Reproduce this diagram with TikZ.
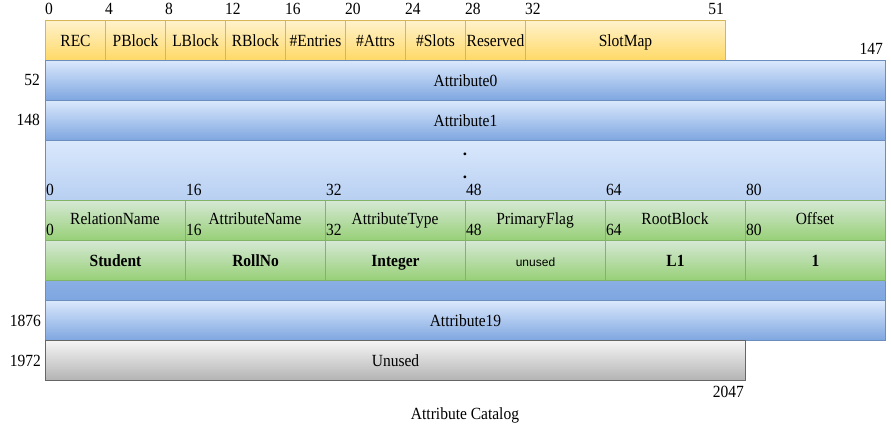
\documentclass[tikz,border=0pt]{standalone}
\usepackage{graphicx}
\usepackage{fontspec}
\setmainfont{Liberation Serif}
\newfontfamily\sansf{Liberation Sans}
\definecolor{yelT}{HTML}{FFF2CC}
\definecolor{yelD}{HTML}{FFD966}
\definecolor{yelB}{HTML}{D6B656}
\definecolor{bluT}{HTML}{DAE8FC}
\definecolor{bluD}{HTML}{7EA6E0}
\definecolor{bluB}{HTML}{6C8EBF}
\definecolor{grnT}{HTML}{D5E8D4}
\definecolor{grnD}{HTML}{97D077}
\definecolor{grnB}{HTML}{82B366}
\definecolor{gryT}{HTML}{F5F5F5}
\definecolor{gryD}{HTML}{B3B3B3}
\definecolor{gryB}{HTML}{666666}
\newcommand{\tall}[1]{\scalebox{1}[1.1]{#1}}
\begin{document}
\begin{tikzpicture}[x=1pt,y=1pt,
  cell/.style={draw, line width=1pt, inner sep=0pt, anchor=north west, minimum height=40pt, text height=14pt, text depth=2pt, font=\fontsize{15.5}{18}\selectfont},
  yel/.style={cell, draw=yelB, top color=yelT, bottom color=yelD},
  blu/.style={cell, draw=bluB, top color=bluT, bottom color=bluD},
  grn/.style={cell, draw=grnB, top color=grnT, bottom color=grnD, minimum width=140pt},
  gry/.style={cell, draw=gryB, top color=gryT, bottom color=gryD},
  num/.style={inner sep=0pt, font=\fontsize{15.5}{17}\selectfont},
  lbl/.style={inner sep=0pt, anchor=base, font=\fontsize{15.5}{18}\selectfont},
  dotmark/.style={inner sep=0pt, anchor=base, font=\fontsize{17}{18}\selectfont\bfseries}]
\useasboundingbox (0,0) rectangle (891,-430);
% header row
\node[yel, minimum width=60pt] (rec) at (45,-20) {\tall{REC}};
\node[yel, minimum width=60pt] (pblock) at (105,-20) {\tall{PBlock}};
\node[yel, minimum width=60pt] (lblock) at (165,-20) {\tall{LBlock}};
\node[yel, minimum width=60pt] (rblock) at (225,-20) {\tall{RBlock}};
\node[yel, minimum width=60pt] (entries) at (285,-20) {\tall{\#Entries}};
\node[yel, minimum width=60pt] (attrs) at (345,-20) {\tall{\#Attrs}};
\node[yel, minimum width=60pt] (slots) at (405,-20) {\tall{\#Slots}};
\node[yel, minimum width=60pt] (reserved) at (465,-20) {\tall{Reserved}};
\node[yel, minimum width=200pt] (slotmap) at (525,-20) {\tall{SlotMap}};
\node[num, anchor=base west] (h0) at (45,-15) {\tall{0}};
\node[num, anchor=base west] (h4) at (105,-15) {\tall{4}};
\node[num, anchor=base west] (h8) at (165,-15) {\tall{8}};
\node[num, anchor=base west] (h12) at (225,-15) {\tall{12}};
\node[num, anchor=base west] (h16) at (285,-15) {\tall{16}};
\node[num, anchor=base west] (h20) at (345,-15) {\tall{20}};
\node[num, anchor=base west] (h24) at (405,-15) {\tall{24}};
\node[num, anchor=base west] (h28) at (465,-15) {\tall{28}};
\node[num, anchor=base west] (h32) at (525,-15) {\tall{32}};
\node[num, anchor=base east] (h51) at (724,-15) {\tall{51}};
% attribute rows
\node[blu, minimum width=840pt] (a0) at (45,-60) {\tall{Attribute0}};
\node[num, anchor=base east] (n147) at (883,-55) {\tall{147}};
\node[num, anchor=base east] (n52) at (40,-86) {\tall{52}};
\node[blu, minimum width=840pt] (a1) at (45,-100) {\tall{Attribute1}};
\node[num, anchor=base east] (n148) at (40,-126) {\tall{148}};
% middle block
\node[blu, minimum width=840pt, minimum height=160pt] (mid) at (45,-140) {};
\node[dotmark] (d1) at (465,-155.5) {.};
\node[dotmark] (d2) at (465,-178.5) {.};
\foreach \x/\t in {45/0,185/16,325/32,465/48,605/64,745/80}{
  \node[num, anchor=base west] at (\x+1,-196) {\tall{\t}};
}
% green rows
\node[grn] (g1) at (45,-200) {};
\node[grn] (g2) at (185,-200) {};
\node[grn] (g3) at (325,-200) {};
\node[grn] (g4) at (465,-200) {};
\node[grn] (g5) at (605,-200) {};
\node[grn] (g6) at (745,-200) {};
\node[lbl] at (115,-225) {\tall{RelationName}};
\node[lbl] at (255,-225) {\tall{AttributeName}};
\node[lbl] at (395,-225) {\tall{AttributeType}};
\node[lbl] at (535,-225) {\tall{PrimaryFlag}};
\node[lbl] at (675,-225) {\tall{RootBlock}};
\node[lbl] at (815,-225) {\tall{Offset}};
\foreach \x/\t in {45/0,185/16,325/32,465/48,605/64,745/80}{
  \node[num, anchor=base west] at (\x+1,-236) {\tall{\t}};
}
\node[grn] (v1) at (45,-240) {\tall{\textbf{Student}}};
\node[grn] (v2) at (185,-240) {\tall{\textbf{RollNo}}};
\node[grn] (v3) at (325,-240) {\tall{\textbf{Integer}}};
\node[grn] (v4) at (465,-240) {\sansf\fontsize{12}{14}\selectfont unused};
\node[grn] (v5) at (605,-240) {\tall{\textbf{L1}}};
\node[grn] (v6) at (745,-240) {\tall{\textbf{1}}};
% lower rows
\node[blu, minimum width=840pt] (a19) at (45,-300) {\tall{Attribute19}};
\node[num, anchor=base east] (n1876) at (41,-326) {\tall{1876}};
\node[gry, minimum width=700pt] (unused) at (45,-340) {\tall{Unused}};
\node[num, anchor=base east] (n1972) at (41,-366) {\tall{1972}};
\node[num, anchor=base east] (n2047) at (744,-397) {\tall{2047}};
\node[lbl] (cap) at (465,-419) {\tall{Attribute Catalog}};
\end{tikzpicture}
\end{document}
